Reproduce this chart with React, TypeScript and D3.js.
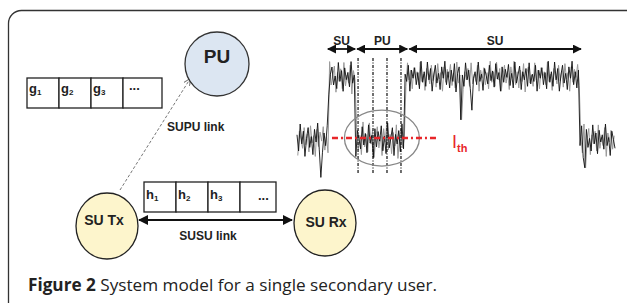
import React from "react";
import * as d3 from "d3";

// ---- data ----
const segBounds = [0, 10, 18.3, 34, 89, 100]; // time units
const segLevels = [2.9, 8.1, 2.9, 8.2, 2.9]; // power level
const segAmps = [1.5, 1.5, 1.6, 1.35, 1.5];
const spikeTimes = [7.5, 51.6, 55, 90.6];
const spikeLevels = [-0.2, 4.6, 5.4, 0.6];
const jitter = [
  0.3, -0.6, 0.9, -0.2, 0.5, -0.9, 0.1, 0.7, -0.4, 0.2, -0.8, 0.6, -0.1, 0.95, -0.5, 0.3, -0.7, 0.4, -0.3, 0.8,
  -0.95, 0.2, 0.6, -0.4, 0.1, -0.6, 0.85, -0.2, 0.4, -0.75, 0.55, -0.1, 0.3, -0.5, 0.9, -0.3, 0.15, -0.85, 0.5, 0.05,
  -0.45, 0.7, -0.25, 0.35, -0.65, 0.8, -0.15, 0.25, -0.9, 0.6, -0.35, 0.45, -0.05, 0.75, -0.55, 0.2, -0.7, 0.9, -0.4, 0.1,
  0.65, -0.8, 0.3, -0.2, 0.5, -0.6, 0.85, -0.45, 0.15, -0.3, 0.7, -0.9, 0.4, -0.1, 0.55, -0.5, 0.25, -0.75, 0.95, -0.35,
];
const senseLines = [19.2, 23.9, 28.3, 32.7];
const spanLabels = ["SU", "PU", "SU"];
const spanStarts = [9.4, 18.6, 35];
const spanEnds = [18.6, 35, 89.6];
const thresholdLevel = 3.08;
const thresholdRange = [11, 44.3];
const gLabels = ["g", "g", "g", "..."];
const gSubs = ["1", "2", "3", ""];
const hLabels = ["h", "h", "h", "..."];
const hSubs = ["1", "2", "3", ""];

const NARROW = "'Liberation Sans Narrow', 'Arial Narrow', 'Liberation Sans', Arial, sans-serif";

function buildTrace(offset: number, tShift: number) {
  const pts: [number, number][] = [];
  const step = 0.5;
  let i = 0;
  for (let t = tShift; t <= 100; t += step, i++) {
    let s = 0;
    while (s < segLevels.length - 1 && t >= segBounds[s + 1]) s++;
    let v = segLevels[s] + jitter[(i + offset) % jitter.length] * segAmps[s];
    for (let k = 0; k < spikeTimes.length; k++) {
      if (Math.abs(t - spikeTimes[k]) < step / 2) v = spikeLevels[k];
    }
    pts.push([t, v]);
  }
  return pts;
}

export default function App() {
  const x = d3.scaleLinear().domain([0, 100]).range([297, 615]);
  const y = d3.scaleLinear().domain([0, 10]).range([175, 55]);
  const line = d3
    .line<[number, number]>()
    .x((d) => x(d[0]))
    .y((d) => y(d[1]));
  const grayTrace = buildTrace(37, 0.25);
  const blackTrace = buildTrace(0, 0);

  const gX = d3.scaleBand().domain(d3.range(3).map(String)).range([27, 123]);
  const hX = d3.scaleBand().domain(d3.range(3).map(String)).range([144, 240]);

  return (
    <svg
      width={627}
      height={303}
      style={{ position: "fixed", left: 0, top: 0, background: "#fff" }}
    >
      <defs>
        <marker id="ah" viewBox="0 0 10 10" refX="9" refY="5" markerWidth="5" markerHeight="5" orient="auto-start-reverse">
          <path d="M0,0 L10,5 L0,10 z" fill="#111" />
        </marker>
        <marker id="ahg" viewBox="0 0 10 10" refX="9" refY="5" markerWidth="7" markerHeight="7" orient="auto">
          <path d="M0,0 L10,5 L0,10" fill="none" stroke="#777" strokeWidth="1.5" />
        </marker>
      </defs>
      {/* frame */}
      <rect x={8.5} y={10.5} width={660} height={340} rx={13} fill="none" stroke="#333" strokeWidth={1.3} />

      {/* SU-PU dashed link */}
      <line x1={120} y1={190} x2={190} y2={79} stroke="#777" strokeWidth={1} strokeDasharray="3,2" markerEnd="url(#ahg)" />

      {/* PU circle */}
      <circle cx={217} cy={64} r={32} fill="#dce6f2" stroke="#333" strokeWidth={1.3} />
      <text x={217} y={63} textAnchor="middle" fontFamily={NARROW} fontWeight="bold" fontSize={19} fill="#222">PU</text>

      {/* g boxes */}
      {gLabels.map((lab, i) => {
        const x0 = i < 3 ? gX(String(i))! : 123;
        const w = i < 3 ? gX.bandwidth() : 39;
        return (
          <g key={"g" + i}>
            <rect x={x0} y={78} width={w} height={30} fill="#fff" stroke="#222" strokeWidth={1.3} />
            <text x={x0 + (i < 3 ? 2 : 6)} y={i < 3 ? 93 : 90} fontFamily={NARROW} fontWeight="bold" fontSize={13} fill="#222">
              {lab}
              {gSubs[i] && <tspan fontSize={8} dy={2}>{gSubs[i]}</tspan>}
            </text>
          </g>
        );
      })}
      <text x={167} y={131} fontFamily={NARROW} fontWeight="bold" fontSize={12} fill="#222">SUPU link</text>

      {/* h boxes */}
      {hLabels.map((lab, i) => {
        const x0 = i < 3 ? hX(String(i))! : 240;
        const w = i < 3 ? hX.bandwidth() : 36;
        return (
          <g key={"h" + i}>
            <rect x={x0} y={182} width={w} height={30} fill="#fff" stroke="#222" strokeWidth={1.3} />
            <text x={x0 + (i < 3 ? 2 : 18)} y={i < 3 ? 199 : 200} fontFamily={NARROW} fontWeight="bold" fontSize={13} fill="#222">
              {lab}
              {hSubs[i] && <tspan fontSize={8} dy={2}>{hSubs[i]}</tspan>}
            </text>
          </g>
        );
      })}

      {/* SUSU link double arrow */}
      <line x1={139} y1={220} x2={292} y2={220} stroke="#111" strokeWidth={2} markerStart="url(#ah)" markerEnd="url(#ah)" />
      <text x={208} y={240} textAnchor="middle" fontFamily={NARROW} fontWeight="bold" fontSize={12} fill="#222">SUSU link</text>

      {/* SU Tx, SU Rx */}
      <ellipse cx={107} cy={226} rx={31} ry={33} fill="#fdf5cc" stroke="#222" strokeWidth={1.3} />
      <text x={104} y={225} textAnchor="middle" fontFamily={NARROW} fontWeight="bold" fontSize={14} fill="#222">SU Tx</text>
      <ellipse cx={325} cy={223} rx={31} ry={33} fill="#fdf5cc" stroke="#222" strokeWidth={1.3} />
      <text x={326} y={227} textAnchor="middle" fontFamily={NARROW} fontWeight="bold" fontSize={14} fill="#222">SU Rx</text>

      {/* span arrows */}
      {spanLabels.map((lab, i) => (
        <g key={"s" + i}>
          <line x1={x(spanStarts[i]) + 1} y1={49} x2={x(spanEnds[i]) - 1} y2={49} stroke="#111" strokeWidth={1.8} markerStart="url(#ah)" markerEnd="url(#ah)" />
          <text x={(x(spanStarts[i]) + x(spanEnds[i])) / 2} y={45} textAnchor="middle" fontFamily={NARROW} fontWeight="bold" fontSize={12} fill="#222">{lab}</text>
        </g>
      ))}

      {/* signal traces */}
      <path d={line(grayTrace)!} fill="none" stroke="#9a9a9a" strokeWidth={1} />
      <path d={line(blackTrace)!} fill="none" stroke="#111" strokeWidth={0.9} />

      {/* sensing lines */}
      {senseLines.map((t, i) => (
        <line key={"v" + i} x1={x(t)} y1={58} x2={x(t)} y2={173} stroke="#111" strokeWidth={1.2} strokeDasharray="3,1.5,1,1.5" />
      ))}

      {/* ellipse */}
      <ellipse cx={x(26.7)} cy={y(thresholdLevel)} rx={37.5} ry={28} fill="none" stroke="#888" strokeWidth={1.3} />

      {/* threshold */}
      <line x1={x(thresholdRange[0])} y1={y(thresholdLevel)} x2={x(thresholdRange[1])} y2={y(thresholdLevel)} stroke="#e8262a" strokeWidth={2.5} strokeDasharray="6,3,2,3" />
      <text x={452} y={148} fontFamily="'Liberation Sans', Arial, sans-serif" fontSize={18} fill="#e8262a">
        I<tspan fontSize={11} fontWeight="bold" dy={4}>th</tspan>
      </text>

      {/* caption */}
      <text x={28} y={291} fontFamily="'Open Sans', 'Noto Sans', sans-serif" fontSize={17} fill="#222" textLength={409} lengthAdjust="spacingAndGlyphs">
        <tspan fontWeight="bold">Figure 2</tspan> System model for a single secondary user.
      </text>
    </svg>
  );
}
